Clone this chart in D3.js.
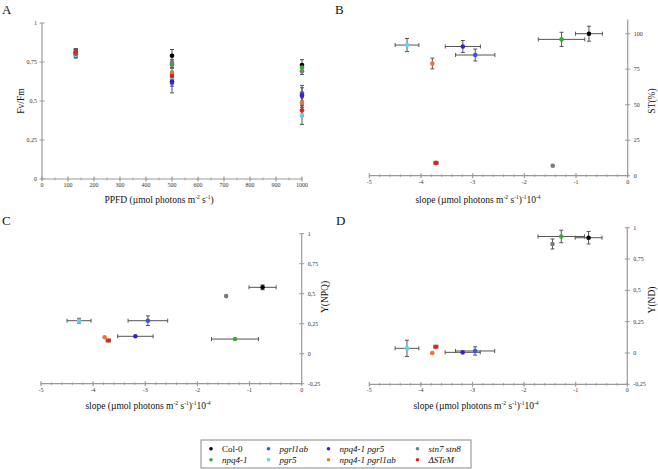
<!DOCTYPE html>
<html><head><meta charset="utf-8">
<script src="https://cdn.jsdelivr.net/npm/d3@7"></script>
<style>
html,body{margin:0;padding:0;background:#fff;}
svg{display:block;font-family:"Liberation Serif","DejaVu Serif",serif;}
</style></head>
<body><svg id="c" width="658" height="469"></svg>
<script>
// ---- data ----
const genotypes = ["Col-0","npq4-1","pgrl1ab","pgr5","npq4-1 pgr5","npq4-1 pgrl1ab","stn7 stn8","ΔSTeM"];
const italic = [false,true,true,true,true,true,true,true];
const colors = ["#000000","#3aa935","#3656e0","#5fd3ec","#4a18c8","#ee7433","#7a7a7a","#d42a1e"];
const ppfd = [130, 500, 1000];
const fvfm = [
  [0.81, 0.79, 0.73],
  [0.81, 0.735, 0.715],
  [0.80, 0.617, 0.55],
  [0.795, 0.64, 0.41],
  [0.805, 0.625, 0.535],
  [0.815, 0.68, 0.49],
  [0.81, 0.745, 0.69],
  [0.816, 0.66, 0.44]
];
const fvfmErr = [
  [0.02,0.04,0.035],[0.02,0.02,0.02],[0.02,0.065,0.05],[0.02,0.03,0.06],
  [0.02,0.03,0.05],[0.02,0.03,0.03],[0.02,0.02,0.02],[0.02,0.03,0.04]
];
const slope    = [-0.75,-1.28,-2.95,-4.27,-3.19,-3.78,-1.45,-3.71];
const slopeErr = [0.26,0.45,0.38,0.23,0.34,0.03,0.02,0.04];
const st       = [100,96,85,92,91,79,7,9];
const stErr    = [5.3,5,4.2,4.6,4.2,3.8,1,1];
const npq      = [0.553,0.122,0.275,0.275,0.145,0.137,0.48,0.11];
const npqErr   = [0.02,0.01,0.04,0.02,0.01,0.01,0.01,0.01];
const nd       = [0.92,0.93,0.016,0.037,0.005,0.0,0.87,0.05];
const ndErr    = [0.05,0.05,0.033,0.065,0.01,0.01,0.04,0.01];
const ticksA_x = [0,100,200,300,400,500,600,700,800,900,1000];
const ticks01  = [0,0.25,0.5,0.75,1];
const ticksNeg = [-0.25,0,0.25,0.5,0.75,1];
const ticksST  = [0,25,50,75,100];
const ticksSlope = [-5,-4,-3,-2,-1,0];

// ---- helpers ----
const svg = d3.select("#c");
const axisCol = "#9a9a9a", errCol = "#555";
const fmt = v => String(v).replace(".", ",");

function hAxis(g, x, y0, ticks, minorStep, labelDy){
  const d = x.domain();
  g.append("line").attr("x1",x(d[0])).attr("x2",x(d[1])).attr("y1",y0).attr("y2",y0)
    .attr("stroke",axisCol).attr("stroke-width",1.2);
  const minors = d3.range(d[0], d[1]+1e-9, minorStep);
  g.selectAll(null).data(minors).join("line")
    .attr("x1",v=>x(v)).attr("x2",v=>x(v)).attr("y1",y0-1.5).attr("y2",y0+1.5)
    .attr("stroke",axisCol).attr("stroke-width",0.8);
  g.selectAll(null).data(ticks).join("line")
    .attr("x1",v=>x(v)).attr("x2",v=>x(v)).attr("y1",y0-2.5).attr("y2",y0+2.5)
    .attr("stroke",axisCol).attr("stroke-width",1);
  g.selectAll(null).data(ticks).join("text")
    .attr("x",v=>x(v)).attr("y",y0+labelDy).attr("text-anchor","middle")
    .attr("font-size",6).attr("fill","#333").text(v=>fmt(v));
}
function vAxis(g, y, x0, ticks, minorStep, side, top){
  const d = y.domain();
  const hi = top !== undefined ? top : d[1];
  g.append("line").attr("x1",x0).attr("x2",x0).attr("y1",y(d[0])).attr("y2",y(hi))
    .attr("stroke",axisCol).attr("stroke-width",1.2);
  if(minorStep){
    const minors = d3.range(d[0], hi+1e-9, minorStep);
    g.selectAll(null).data(minors).join("line")
      .attr("y1",v=>y(v)).attr("y2",v=>y(v)).attr("x1",x0-1.5).attr("x2",x0+1.5)
      .attr("stroke",axisCol).attr("stroke-width",0.8);
  }
  g.selectAll(null).data(ticks).join("line")
    .attr("y1",v=>y(v)).attr("y2",v=>y(v)).attr("x1",x0-2.5).attr("x2",x0+2.5)
    .attr("stroke",axisCol).attr("stroke-width",1);
  g.selectAll(null).data(ticks).join("text")
    .attr("x",side==="left"? x0-5 : x0+6).attr("y",v=>y(v)+2)
    .attr("text-anchor",side==="left"?"end":"start")
    .attr("font-size",6).attr("fill","#333").text(v=>fmt(v));
}
function errH(g, x, y, cx, cy, e){
  if(e*(x(1)-x(0)) < 2) return;
  g.append("line").attr("x1",x(cx-e)).attr("x2",x(cx+e)).attr("y1",y(cy)).attr("y2",y(cy))
    .attr("stroke",errCol).attr("stroke-width",1);
  [cx-e,cx+e].forEach(v=>g.append("line").attr("x1",x(v)).attr("x2",x(v))
    .attr("y1",y(cy)-2).attr("y2",y(cy)+2).attr("stroke",errCol).attr("stroke-width",1));
}
function errV(g, x, y, cx, cy, e){
  if(Math.abs(y(cy+e)-y(cy)) < 2) return;
  g.append("line").attr("x1",x(cx)).attr("x2",x(cx)).attr("y1",y(cy-e)).attr("y2",y(cy+e))
    .attr("stroke",errCol).attr("stroke-width",1);
  [cy-e,cy+e].forEach(v=>g.append("line").attr("y1",y(v)).attr("y2",y(v))
    .attr("x1",x(cx)-2).attr("x2",x(cx)+2).attr("stroke",errCol).attr("stroke-width",1));
}
function supTitle(x, y, parts){
  const t = svg.append("text").attr("x",x).attr("y",y).attr("text-anchor","middle")
    .attr("font-size",9.5).attr("fill","#111");
  parts.forEach(([s,sup])=>{
    if(sup) t.append("tspan").attr("font-size",5.5).attr("dy",-3.5).text(s);
    else t.append("tspan").attr("dy", t.selectAll("tspan").size() ? 3.5 : 0).text(s);
  });
}
function slopeTitle(x, y){
  supTitle(x, y, [["slope (µmol photons m",0],["-2",1],[" s",0],["-1",1],[")",0],["-1",1],["10",0],["-4",1]]);
}
function panelLabel(txt, x, y){
  svg.append("text").attr("x",x).attr("y",y).attr("font-size",13).attr("fill","#111").text(txt);
}
function rotTitle(txt, x, y){
  svg.append("text").attr("transform",`translate(${x},${y}) rotate(-90)`)
    .attr("text-anchor","middle").attr("font-size",9.5).attr("fill","#111").text(txt);
}

// ---- Panel A ----
{
  const x = d3.scaleLinear().domain([0,1000]).range([42,302]);
  const y = d3.scaleLinear().domain([0,1]).range([179,23]);
  const g = svg.append("g");
  hAxis(g, x, y(0), ticksA_x, 50, 8);
  vAxis(g, y, x(0), ticks01, null, "left");
  const m = g.append("g");
  genotypes.forEach((gn,i)=>{
    ppfd.forEach((p,j)=> errV(m, x, y, p, fvfm[i][j], fvfmErr[i][j]));
  });
  genotypes.forEach((gn,i)=>{
    m.selectAll(null).data(ppfd).join("circle")
      .attr("cx",p=>x(p)).attr("cy",(p,j)=>y(fvfm[i][j])).attr("r",2.3).attr("fill",colors[i]);
  });
  panelLabel("A", 2, 14);
  rotTitle("Fv/Fm", 24, 101);
  supTitle(159, 199, [["PPFD (µmol photons m",0],["-2",1],[" s",0],["-1",1],[")",0]]);
}

// ---- generic slope panel ----
function slopePanel(xr, yr, ydom, yticks, yval, yerr, yTop, minorY){
  const x = d3.scaleLinear().domain([-5,0]).range(xr);
  const y = d3.scaleLinear().domain(ydom).range(yr);
  const g = svg.append("g");
  hAxis(g, x, y(ydom[0]), ticksSlope, 0.2, 8);
  vAxis(g, y, x(0), yticks, minorY, "right", yTop);
  genotypes.forEach((gn,i)=>{
    errH(g, x, y, slope[i], yval[i], slopeErr[i]);
    errV(g, x, y, slope[i], yval[i], yerr[i]);
  });
  genotypes.forEach((gn,i)=>{
    g.append("circle").attr("cx",x(slope[i])).attr("cy",y(yval[i])).attr("r",2.3).attr("fill",colors[i]);
  });
}

// ---- Panel B ----
slopePanel([369.3,627.7],[175.7,33.7],[0,100],ticksST,st,stErr,110,null);
panelLabel("B", 335, 14);
rotTitle("ST(%)", 655, 101);
slopeTitle(478, 199);

// ---- Panel C ----
slopePanel([41,301.7],[383.7,233.7],[-0.25,1],ticksNeg,npq,npqErr,undefined,null);
panelLabel("C", 2, 225);
rotTitle("Y(NPQ)", 328, 297);
slopeTitle(148, 405);

// ---- Panel D ----
slopePanel([369.3,627.3],[384.3,227.7],[-0.25,1],ticksNeg,nd,ndErr,undefined,null);
panelLabel("D", 336, 225);
rotTitle("Y(ND)", 655, 300);
slopeTitle(476, 405);

// ---- Legend ----
{
  const lg = svg.append("g");
  lg.append("rect").attr("x",201).attr("y",440).attr("width",270).attr("height",28)
    .attr("fill","#fff").attr("stroke","#888").attr("stroke-width",1);
  const colX = [211, 268.5, 328.5, 417.5];
  const rowY = [448.7, 459.7];
  const order = [0,2,4,6,1,3,5,7];
  order.forEach((gi,k)=>{
    const c = k%4, r = Math.floor(k/4);
    lg.append("circle").attr("cx",colX[c]).attr("cy",rowY[r]).attr("r",1.8).attr("fill",colors[gi]);
    lg.append("text").attr("x",colX[c]+11).attr("y",rowY[r]+3).attr("font-size",9)
      .attr("font-style",italic[gi]?"italic":"normal").attr("fill","#111").text(genotypes[gi]);
  });
}
</script></body></html>
